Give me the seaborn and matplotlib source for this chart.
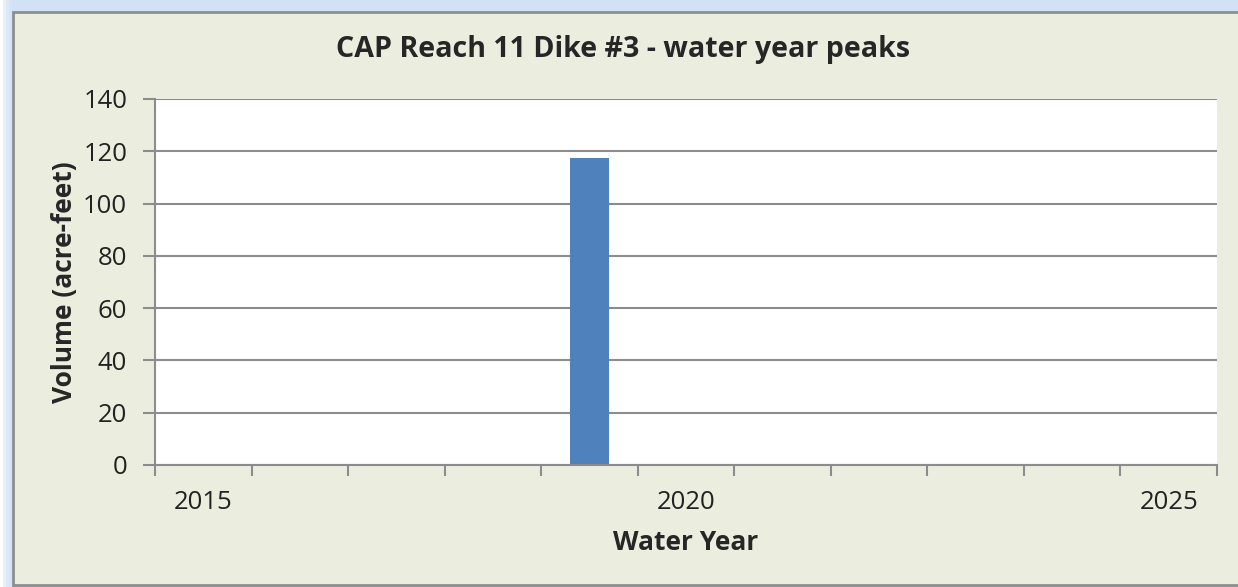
# Water year peak volumes for CAP Reach 11 Dike #3

import matplotlib
matplotlib.use('Agg')
import matplotlib.pyplot as plt
import seaborn as sns
from matplotlib.patches import Rectangle

# data
waterYears = [2015, 2016, 2017, 2018, 2019, 2020, 2021, 2022, 2023, 2024, 2025]
peakVolume = [0, 0, 0, 0, 117.5, 0, 0, 0, 0, 0, 0]
labelledYears = ['2015', '2020', '2025']

sns.set_style('white')
plt.rcParams['font.family'] = ['Open Sans', 'DejaVu Sans']

bgColor = '#EBEEDF'
gridColor = '#8C8C8C'
barColor = '#4F81BD'

fig = plt.figure(figsize=(12.38, 5.87), dpi=100, facecolor='white')

# window glow and chart frame
for i, a in enumerate([0.08, 0.12, 0.18, 0.28]):
    pad = (12 - 3 * i) / 1238
    padY = (12 - 3 * i) / 587
    fig.patches.append(Rectangle((pad, -0.02), 1.05, 1.02 - padY + 0.02, transform=fig.transFigure,
                                 facecolor='#A9CBF2', alpha=a, edgecolor='none', zorder=0))
fig.patches.append(Rectangle((13 / 1238, 2 / 587), 1.1, 1 - 14 / 587, transform=fig.transFigure,
                             facecolor=bgColor, edgecolor='#8E8E8E', linewidth=2, zorder=1))

ax = fig.add_axes([155 / 1238, 1 - 465 / 587, (1217 - 155) / 1238, (465 - 99) / 587])
ax.set_facecolor('white')
ax.set_zorder(2)

sns.barplot(x=waterYears, y=peakVolume, color=barColor, width=0.4, linewidth=0, saturation=1, ax=ax)

ax.set_xlim(-0.5, len(waterYears) - 0.5)
ax.set_ylim(0, 140)
ax.set_yticks(range(0, 141, 20))
ax.yaxis.grid(True, color=gridColor, linewidth=1.5)
ax.set_axisbelow(True)

ax.set_xticks([waterYears.index(int(y)) for y in labelledYears])
ax.set_xticklabels(labelledYears)
ax.set_xticks([i - 0.5 for i in range(len(waterYears) + 1)], minor=True)
ax.tick_params(axis='x', which='major', bottom=True, length=0, pad=18, labelsize=18.5, colors='#222222')
ax.tick_params(axis='x', which='minor', bottom=True, length=8, width=1.5, color=gridColor, direction='out')
ax.tick_params(axis='y', length=9, width=1.5, color=gridColor, pad=11, labelsize=18.5, labelcolor='#222222',
               direction='out', left=True)

for side in ['top', 'right']:
    ax.spines[side].set_visible(False)
for side in ['left', 'bottom']:
    ax.spines[side].set_color(gridColor)
    ax.spines[side].set_linewidth(1.5)

ax.set_xlabel('Water Year', fontsize=19, fontweight='bold', labelpad=10)
ax.set_ylabel('Volume (acre-feet)', fontsize=19, fontweight='bold', labelpad=4)
fig.text(623 / 1238, 1 - 50 / 587, 'CAP Reach 11 Dike #3 - water year peaks', ha='center', va='center',
         fontsize=20.6, fontweight='bold', zorder=3)

fig.savefig('out.png', dpi=100, facecolor=fig.get_facecolor())
